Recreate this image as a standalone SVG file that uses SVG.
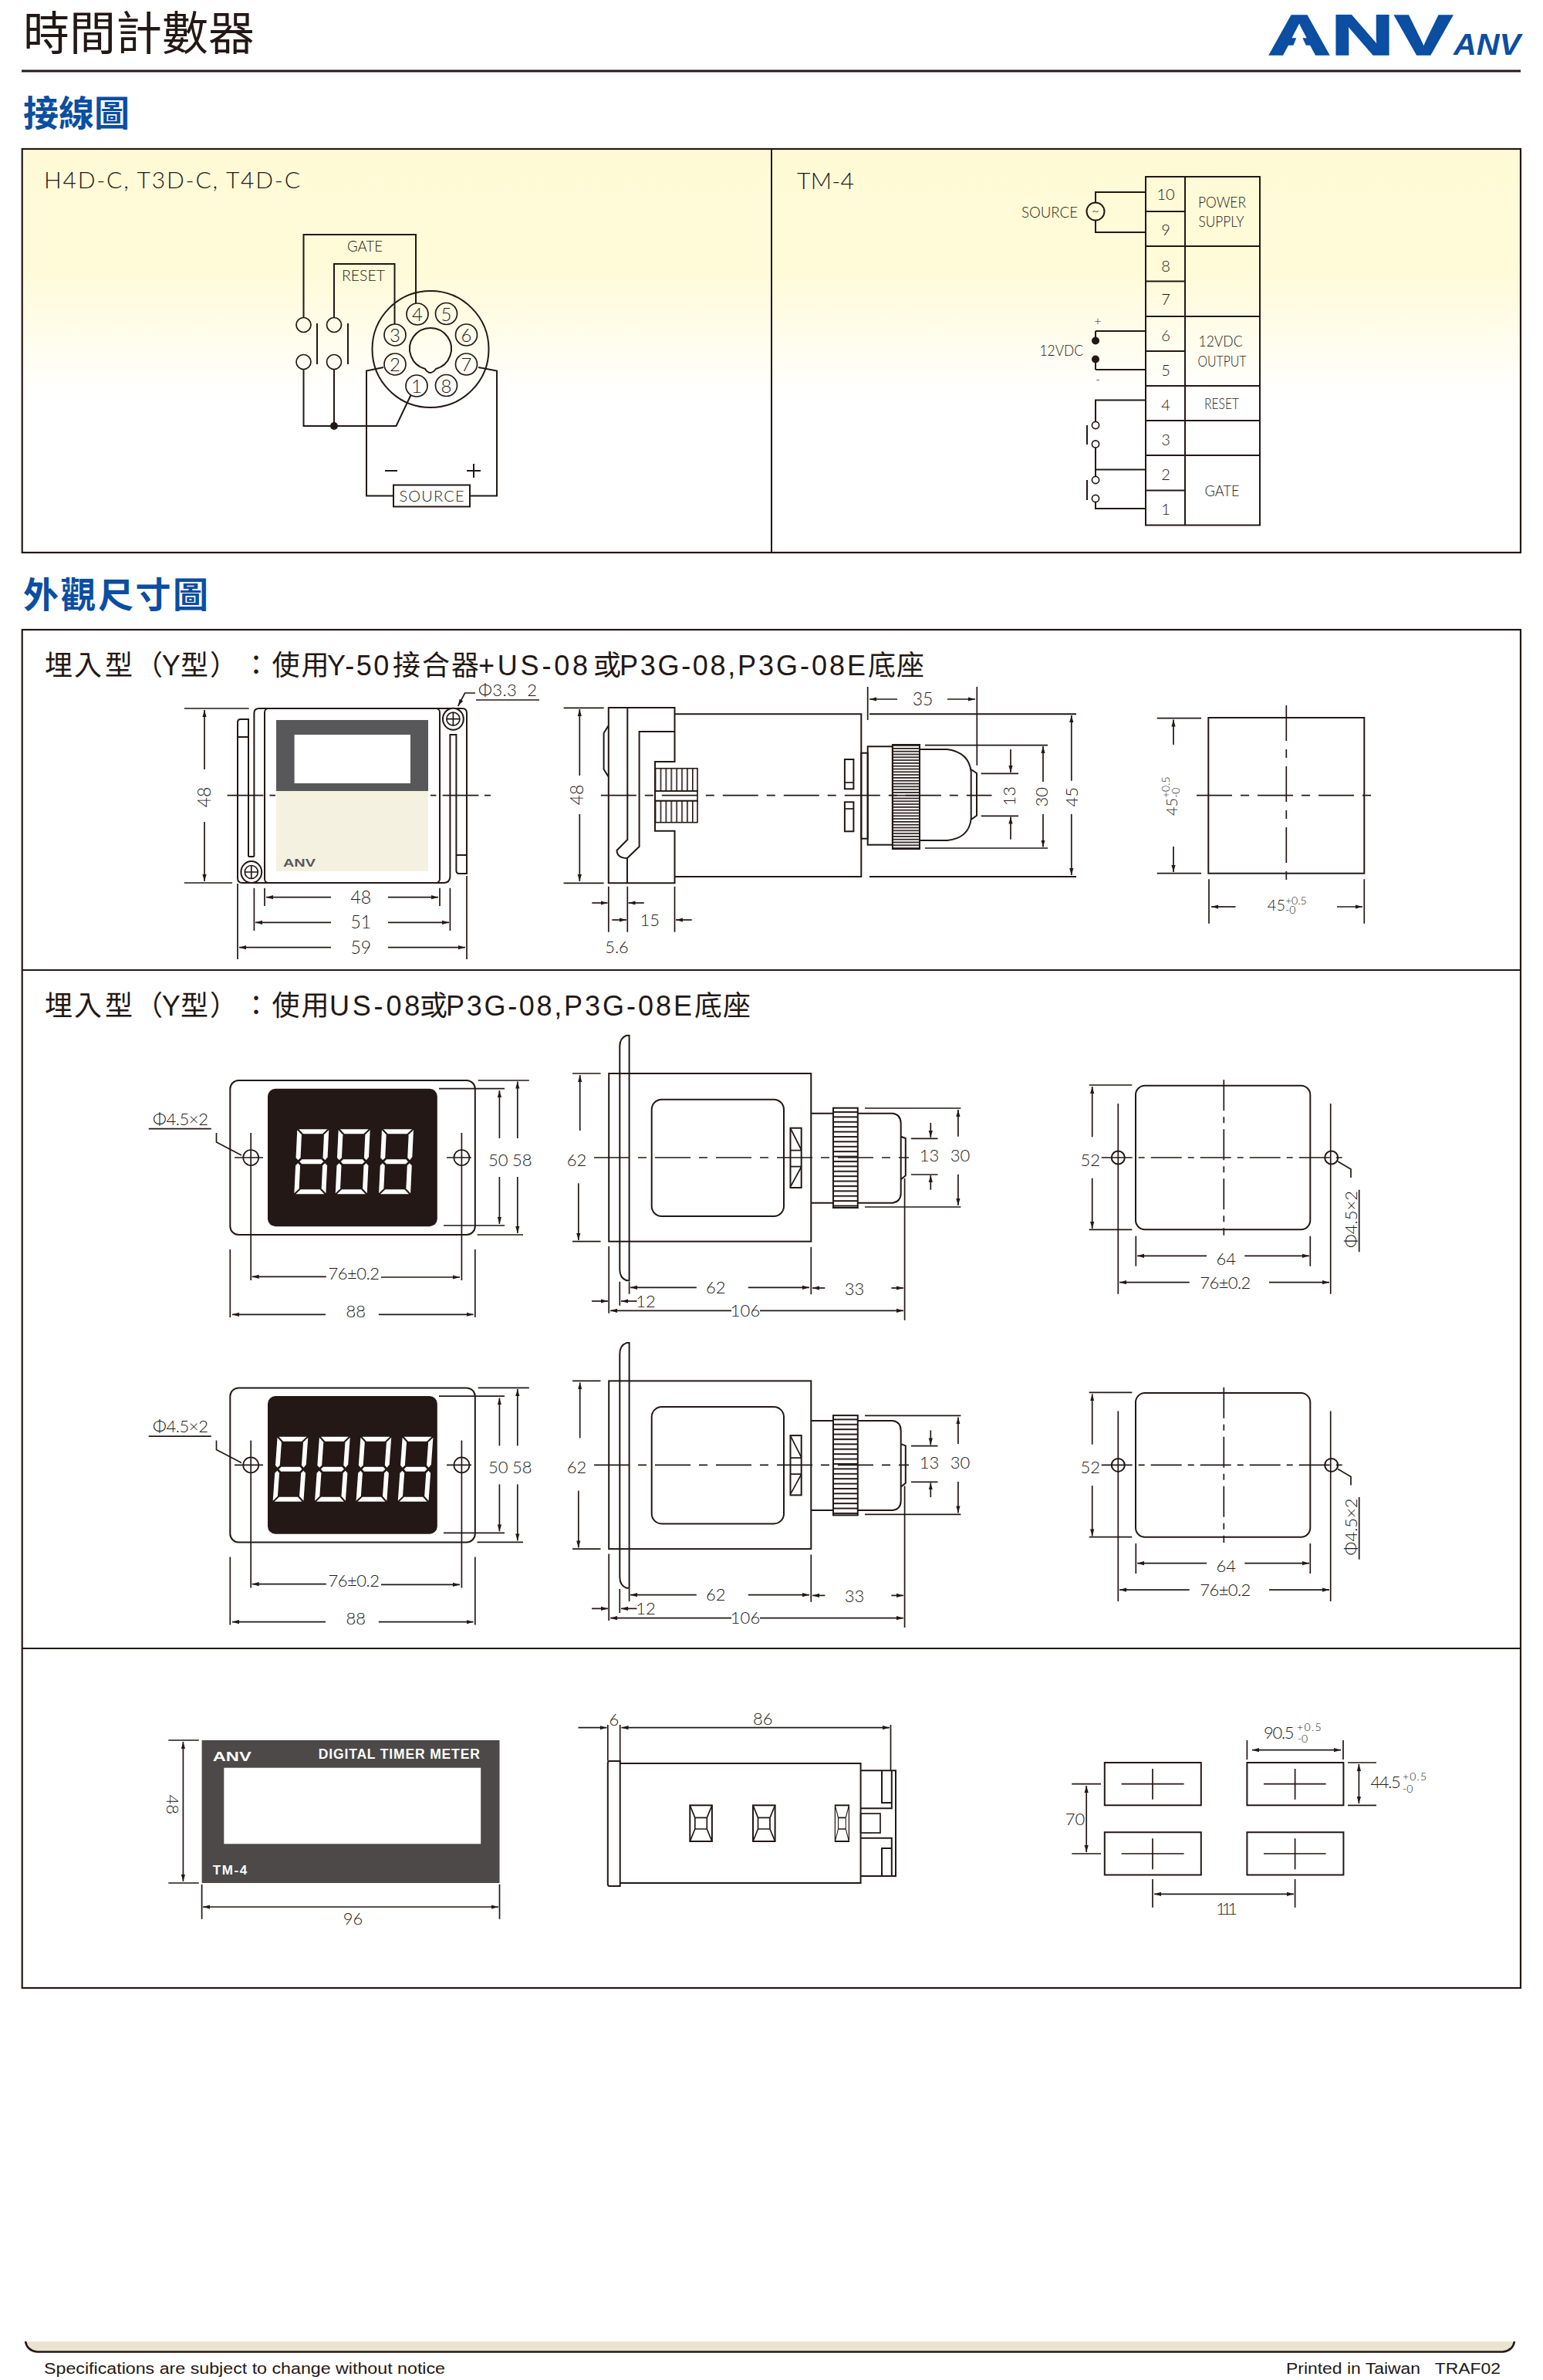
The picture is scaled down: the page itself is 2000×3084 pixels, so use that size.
<svg xmlns="http://www.w3.org/2000/svg" xmlns:xlink="http://www.w3.org/1999/xlink" width="2000" height="3084" viewBox="0 0 2000 3084">
<style>
.l{fill:none;stroke:#231815;stroke-width:2}
.d{fill:none;stroke:#231815;stroke-width:1.7}
.w{fill:#fff;stroke:#231815;stroke-width:2}
.a{marker-end:url(#ar)}
.aa{marker-end:url(#ar);marker-start:url(#ar)}
.c{stroke-dasharray:46 11 11 11}
.c2{stroke-dasharray:40 8 8 8}
text{font-family:Lato,"Liberation Sans","Noto Sans CJK TC",sans-serif;fill:#231815;font-weight:300}
.m{text-anchor:middle}
.s13{font-size:13px}.s14{font-size:14px}.s16{font-size:16px}.s18{font-size:18px}.s19{font-size:19px}.s20{font-size:20px}.s22{font-size:22px}.s23{font-size:23px}.s24{font-size:24px}.s30{font-size:30px}
.h{font-family:"Noto Sans CJK TC","Noto Sans CJK SC",sans-serif;font-size:46px;font-weight:700;fill:#0b4ea2}
.ti{font-family:"Liberation Sans","Noto Sans CJK TC",sans-serif;font-size:36px;font-weight:400}
.b{font-family:"Liberation Sans",sans-serif;font-weight:700;fill:#fff}
.ft{font-family:"Liberation Sans",sans-serif;font-size:20px;font-weight:400}
</style>
<defs>
<linearGradient id="cream" x1="0" y1="0" x2="0" y2="1"><stop offset="0" stop-color="#fffad6"/><stop offset=".3" stop-color="#fffad8"/><stop offset=".62" stop-color="#ffffff"/></linearGradient>
<marker id="ar" markerUnits="userSpaceOnUse" markerWidth="10" markerHeight="6" refX="9" refY="3" orient="auto-start-reverse"><path d="M0 .4L9 3L0 5.6Z" fill="#231815"/></marker>
<pattern id="k1" patternUnits="userSpaceOnUse" width="10" height="3.8"><rect width="10" height="1.7" fill="#231815"/></pattern>
<pattern id="k2" patternUnits="userSpaceOnUse" width="10" height="6.4"><rect width="10" height="2" fill="#231815"/></pattern>
<pattern id="k3" patternUnits="userSpaceOnUse" width="6.9" height="10"><rect width="1.6" height="10" fill="#231815"/></pattern>
<g id="dig"><polygon points="2,0 39,0 33,6 8,6"/><polygon points="41,1 41,36 38,40 35,37 35,7"/><polygon points="0,1 6,7 6,37 3,40 0,37"/><polygon points="5,42 8,39 33,39 36,42 33,45 8,45"/><polygon points="0,47 3,44 6,47 6,77 0,83"/><polygon points="41,47 38,44 35,47 35,77 41,83"/><polygon points="2,84 8,78 33,78 39,84"/></g>

<g id="frontB">
<rect class="l" x="298.3" y="1400" width="317.5" height="200" rx="11"/>
<rect x="347" y="1410.7" width="219.8" height="178.6" rx="10" fill="#231815"/>
<circle class="d" cx="325.2" cy="1500" r="10"/><circle class="d" cx="598.4" cy="1500" r="10"/>
<path class="d" d="M304 1500H341M579 1500H611M325.2 1468V1659M598.4 1468V1659"/>
<path class="d" d="M280.5 1468V1480L313 1497"/>
<path class="d" d="M192.7 1462.7H273.8"/>
<path class="d" d="M619.7 1400H685.8M569 1410.7H654M575 1588H654M618.6 1600H678M298.3 1619V1707M615.8 1619V1707"/>
<path class="d a" d="M647.4 1475V1413"/><path class="d a" d="M647.4 1525V1586"/>
<path class="d a" d="M670.8 1475V1401.5"/><path class="d a" d="M670.8 1525V1598"/>
<path class="d a" d="M422.8 1654.3H326.7"/><path class="d a" d="M494 1655H596"/>
<path class="d a" d="M422 1703.3H301"/><path class="d a" d="M490.8 1703.3H613.6"/>
</g>

<g id="sideB">
<rect class="l" x="789.2" y="1391" width="262.1" height="217.7"/>
<path class="l" d="M815.6 1341.7V1659.3H812Q803.3 1656 803.3 1645V1356Q803.3 1345 812 1341.7Z"/>
<rect class="l" x="844.7" y="1424.7" width="171.3" height="151.3" rx="13"/>
<rect class="l" x="1024.5" y="1461.7" width="14.2" height="77.3"/>
<path class="d" d="M1024.5 1490.7H1038.7M1024.5 1511.7H1038.7M1025 1463L1038.7 1490M1025 1537L1038.7 1512"/>
<path class="l" d="M1051.3 1442.7H1080M1051.3 1558.7H1080"/>
<rect x="1080" y="1435.7" width="31.8" height="129.3" fill="url(#k2)" stroke="#231815" stroke-width="2"/>
<path class="l" d="M1111.8 1442.7H1157Q1167.7 1444 1167.7 1456V1546Q1167.7 1557 1157 1558.7H1111.8M1167.7 1472.7L1173.8 1475V1523.3L1167.7 1528.3"/>
<path class="d" d="M1121 1436H1245.4M1121 1564H1245.4M1181 1475.3H1215.5M1181 1522H1215.5"/>
<path class="d a" d="M1206.3 1455V1474"/><path class="d a" d="M1206.3 1541.7V1523"/>
<path class="d a" d="M1241.9 1472.7V1438"/><path class="d a" d="M1241.9 1521.7V1562"/>
<path class="d c" d="M770 1500H1178"/>
<path class="d" d="M742 1391H778.5M742 1608.7H778.5"/>
<path class="d a" d="M751.7 1465V1393"/><path class="d a" d="M749.8 1533.3V1607"/>
<path class="d" d="M789.2 1615V1701.7M803.3 1660.7V1691.7M815.6 1660.7V1676.7M1051.3 1616V1677.3M1172.6 1527V1710.7"/>
<path class="d a" d="M902.8 1668.3H817"/><path class="d a" d="M969.8 1668.3H1049"/>
<path class="d a" d="M1069.3 1669H1053"/><path class="d a" d="M1155.4 1669H1171"/>
<path class="d a" d="M767 1686H788"/><path class="d a" d="M825.5 1686H805"/>
<path class="d a" d="M948 1698.3H791"/><path class="d a" d="M985 1698.3H1171"/>
</g>

<g id="cutB">
<rect class="l" x="1472" y="1406.7" width="226.3" height="186.6" rx="12"/>
<circle class="l" cx="1449.3" cy="1500" r="8.5"/><circle class="l" cx="1725.7" cy="1500" r="8.5"/>
<path class="d" d="M1449.3 1430V1676.7M1724.7 1430V1676.7"/>
<path class="d c2" d="M1586.3 1399.3V1600.7"/>
<path class="d c2" d="M1427.7 1500H1745"/>
<path class="d" d="M1411.7 1406H1467.3M1411.7 1593.3H1467.3"/>
<path class="d a" d="M1415.7 1473.3V1408"/><path class="d a" d="M1415.7 1526.7V1592"/>
<path class="d" d="M1472.3 1601.7V1640.7M1698.3 1601.7V1640.7"/>
<path class="d a" d="M1564 1627.3H1474"/><path class="d a" d="M1613.3 1627.3H1697"/>
<path class="d a" d="M1541.7 1661.7H1451"/><path class="d a" d="M1645 1661.7H1723"/>
<path class="d" d="M1734 1505L1751 1515V1526M1761.7 1541.7V1622.3"/>
</g>
<g id="clip">
<rect class="l" x="0" y="0" width="28.6" height="46.7"/>
<path class="d" d="M0 0L6.5 16H22L28.6 0M0 46.7L6.5 30.7H22L28.6 46.7M6.5 16V30.7M22 16V30.7"/>
</g>
<g id="cut"><path class="l" d="M0 0H125V55.3H0Z"/></g>
</defs>

<rect width="2000" height="3084" fill="#fff"/>

<g id="header">
<text x="30" y="65" font-size="60" style="font-family:'Noto Sans CJK TC','Noto Sans CJK SC',sans-serif;font-weight:400">時間計數器</text>
<path d="M28 92H1971" stroke="#231815" stroke-width="3"/>
<text x="1643" y="71" font-size="75" textLength="240" lengthAdjust="spacingAndGlyphs" style="font-family:'Liberation Sans',sans-serif;font-weight:700;fill:#0b4ea2;stroke:#0b4ea2;stroke-width:1.5">ANV</text>
<polygon points="1684,40 1671,72 1699,72" fill="#fff"/>
<text x="1884" y="71" font-size="38" font-style="italic" textLength="87" lengthAdjust="spacingAndGlyphs" style="font-family:'Liberation Sans',sans-serif;font-weight:700;fill:#0b4ea2">ANV</text>
<text class="h" x="30" y="163">接線圖</text>
</g>

<g id="wiring-panel">
<rect x="28.7" y="193" width="1942.3" height="523" fill="url(#cream)" stroke="#231815" stroke-width="2.2"/>
<path class="l" d="M1000 193V716"/>
<text class="s30" x="57" y="244" textLength="332">H4D-C, T3D-C, T4D-C</text>
<text class="s30" x="1033" y="245" textLength="74">TM-4</text>
</g>

<g id="socket-wiring">
<path class="l" d="M393.5 411V304H539V393M433 412V342H511.5V420"/>
<path class="l" d="M393.5 479V552H513.5L532.5 512M433 479V552"/>
<circle cx="433" cy="552" r="5" fill="#231815"/>
<path class="l" d="M411 419V472M451 419V472"/>
<ellipse class="d" cx="393.5" cy="421" rx="9.5" ry="9.5"/><ellipse class="d" cx="433" cy="421" rx="9.5" ry="9.5"/>
<ellipse class="d" cx="393.5" cy="469" rx="9.5" ry="9.5"/><ellipse class="d" cx="433" cy="469" rx="9.5" ry="9.5"/>
<path class="l" d="M497 476L475 480.5V642.5H510M620 476L644 480.5V642.5H609"/>
<rect class="l" x="510" y="628.5" width="99" height="28"/>
<text class="s20 m" x="559.5" y="650" textLength="84">SOURCE</text>
<text class="s20 m" x="473" y="326" textLength="46" lengthAdjust="spacingAndGlyphs">GATE</text>
<text class="s20 m" x="471" y="364" textLength="56" lengthAdjust="spacingAndGlyphs">RESET</text>
<path class="l" d="M499 610H515M605 610H623M614 601V619"/>
</g>
<g id="socket">
<circle class="l" cx="558" cy="452.5" r="75.5"/>
<path class="l" d="M551 478A27 27 0 1 1 565 478Q561 483 558 483Q554 483 551 478Z"/>
<g class="d">
<circle cx="541" cy="407" r="14"/><circle cx="578.5" cy="406.5" r="14"/><circle cx="604.5" cy="434" r="14"/><circle cx="604.5" cy="472" r="14"/><circle cx="578.5" cy="499.5" r="14"/><circle cx="540" cy="500" r="14"/><circle cx="512" cy="472" r="14"/><circle cx="512" cy="434" r="14"/>
</g>
<text class="s24 m" x="541" y="416">4</text><text class="s24 m" x="578.5" y="415.5">5</text><text class="s24 m" x="604.5" y="443">6</text><text class="s24 m" x="604.5" y="481">7</text><text class="s24 m" x="578.5" y="508.5">8</text><text class="s24 m" x="540" y="509">1</text><text class="s24 m" x="512" y="481">2</text><text class="s24 m" x="512" y="443">3</text>
</g>

<g id="terminal-wiring">
<path class="l" d="M1420 263V249H1485M1420 285V301H1485M1420 429H1485M1420 429V441M1420 479H1485M1420 479V466M1485 518.6H1420V546M1420 580V617M1420 608.5H1485M1420 651V659H1485"/>
<circle class="l" cx="1420" cy="274" r="11.5"/>
<text class="s16 m" x="1420" y="279">~</text>
<circle cx="1420" cy="441.5" r="5" fill="#231815"/><circle cx="1420" cy="465.5" r="5" fill="#231815"/>
<circle class="d" cx="1420" cy="551" r="4.6"/><circle class="d" cx="1420" cy="575.4" r="4.6"/><circle class="d" cx="1420" cy="622" r="4.6"/><circle class="d" cx="1420" cy="646" r="4.6"/>
<path class="l" d="M1409 551V576M1409 622V648"/>
<text class="s20" x="1324" y="282" textLength="73" lengthAdjust="spacingAndGlyphs">SOURCE</text>
<text class="s20" x="1347.5" y="461" textLength="56.5" lengthAdjust="spacingAndGlyphs">12VDC</text>
<text class="s16 m" x="1423" y="422">+</text>
<text class="s16 m" x="1423" y="497">-</text>
</g>
<g id="terminal-block">
<path class="l" d="M1485 229H1633V680.6H1485ZM1536 229V680.6M1485 274H1536M1485 319H1633M1485 364.5H1536M1485 410H1633M1485 455H1536M1485 500H1633M1485 545H1633M1485 590H1633M1485 635.5H1536"/>
<text class="s20 m" x="1511" y="259">10</text><text class="s20 m" x="1511" y="305">9</text><text class="s20 m" x="1511" y="352">8</text><text class="s20 m" x="1511" y="395">7</text><text class="s20 m" x="1511" y="442">6</text><text class="s20 m" x="1511" y="487">5</text><text class="s20 m" x="1511" y="532">4</text><text class="s20 m" x="1511" y="577">3</text><text class="s20 m" x="1511" y="621.5">2</text><text class="s20 m" x="1511" y="667">1</text>
<text class="s19 m" x="1584" y="268.5" textLength="62" lengthAdjust="spacingAndGlyphs">POWER</text><text class="s19 m" x="1583" y="294" textLength="59" lengthAdjust="spacingAndGlyphs">SUPPLY</text>
<text class="s19 m" x="1582" y="449" textLength="57" lengthAdjust="spacingAndGlyphs">12VDC</text><text class="s19 m" x="1584" y="475" textLength="63" lengthAdjust="spacingAndGlyphs">OUTPUT</text>
<text class="s19 m" x="1583.5" y="530" textLength="45" lengthAdjust="spacingAndGlyphs">RESET</text><text class="s19 m" x="1584" y="642.5" textLength="45" lengthAdjust="spacingAndGlyphs">GATE</text>
</g>

<text class="h" x="30" y="787" textLength="240">外觀尺寸圖</text>

<g id="dimension-panel">
<rect x="28.7" y="816" width="1942.3" height="1760" fill="#fff" stroke="#231815" stroke-width="2.2"/>
<path class="l" d="M28.7 1257H1971M28.7 2136H1971"/>
<text class="ti" y="875"><tspan x="58">埋</tspan><tspan x="96">入</tspan><tspan x="136">型</tspan><tspan x="175">（</tspan><tspan x="209.7">Y</tspan><tspan x="234">型</tspan><tspan x="272">）</tspan><tspan x="314">：</tspan><tspan x="352.6">使</tspan><tspan x="390.5">用</tspan><tspan x="424" letter-spacing="2.5">Y-50</tspan><tspan x="509">接</tspan><tspan x="547">合</tspan><tspan x="585">器</tspan><tspan x="620" letter-spacing="3.8">+US-08</tspan><tspan x="769">或</tspan><tspan x="803" letter-spacing="2.7">P3G-08,</tspan><tspan x="956" letter-spacing="3">P3G-08E</tspan><tspan x="1125">底</tspan><tspan x="1162">座</tspan></text>
<text class="ti" y="1316"><tspan x="58">埋</tspan><tspan x="96">入</tspan><tspan x="136">型</tspan><tspan x="175">（</tspan><tspan x="209.7">Y</tspan><tspan x="234">型</tspan><tspan x="272">）</tspan><tspan x="314">：</tspan><tspan x="352.6">使</tspan><tspan x="390.5">用</tspan><tspan x="427" letter-spacing="3.8">US-08</tspan><tspan x="544">或</tspan><tspan x="578" letter-spacing="2.7">P3G-08,</tspan><tspan x="731" letter-spacing="3">P3G-08E</tspan><tspan x="900">底</tspan><tspan x="937">座</tspan></text>
</g>

<g id="a-front">
<rect x="358" y="933" width="197" height="92" fill="#58585a"/>
<rect x="358" y="1025" width="197" height="104" fill="#f5f1e0"/>
<rect x="381.6" y="952" width="150.4" height="63" fill="#fff"/>
<text x="367" y="1123" font-size="14" textLength="42" lengthAdjust="spacingAndGlyphs" style="font-family:'Liberation Sans',sans-serif;font-weight:700;fill:#58585a">ANV</text>
<rect class="l" x="343" y="918" width="227" height="226" rx="5"/>
<path class="l" d="M322 1110V932H312Q308 932 308 936V1138Q308 1144 314 1144H575Q583 1144 583.4 1136V952H591.4V1108M308 955H322M329.4 1110V924Q329.4 918 336 918H599Q605 918 605 924V1132H595Q591.4 1132 591.4 1128V1108H605M322 1110H329.4"/>
<ellipse class="w" cx="587.4" cy="931.7" rx="13.4" ry="14"/><circle class="d" cx="587.4" cy="931.7" r="8.5"/><path class="d" d="M579 931.7H596M587.4 923V940"/>
<ellipse class="w" cx="325.8" cy="1130" rx="13.4" ry="14"/><circle class="d" cx="325.8" cy="1130" r="8.5"/><path class="d" d="M317 1130H334M325.8 1121V1139"/>
<path class="d" d="M294.6 1030.7H341.4M349.5 1030.7H357M558 1030.7H565.5M573.6 1030.7H620.4M628 1030.7H636"/>
<path class="d a" d="M616 898H602.6L593.7 915"/>
<text class="s22" x="620" y="902" textLength="76" xml:space="preserve">Φ3.3  2</text>
<path class="d" d="M617 907H699"/>
<path class="d" d="M238.8 918H322.7M238.8 1144H301"/>
<path class="d a" d="M265 997V920"/><path class="d a" d="M265 1065V1142"/>
<text class="s23 m" transform="translate(272.5 1033) rotate(-90)">48</text>
<path class="d" d="M343 1150.7V1174M570 1150.7V1174M329.4 1150.7V1206M583.4 1150.7V1206M308 1145V1243M605 1135V1243"/>
<path class="d a" d="M429 1162.7H345"/><path class="d a" d="M503 1162.7H568"/>
<path class="d a" d="M429 1195.3H331"/><path class="d a" d="M503 1195.3H582"/>
<path class="d a" d="M429 1227.7H310"/><path class="d a" d="M503 1227.7H603"/>
<text class="s23 m" x="467.8" y="1171">48</text><text class="s23 m" x="467.8" y="1203">51</text><text class="s23 m" x="467.8" y="1236">59</text>
</g>

<g id="a-side">
<path class="l" d="M788.8 917H874.5V948H828.6V1097L813 1112V1144.3H788.8ZM813.3 917V1088L799.5 1102Q800 1112 813 1112M874.5 948V987H849V1076.7H874.5V1144.3H813M782.6 950L788.8 940M782.6 950V996.7L788.8 1006.7"/>
<rect x="849" y="995.7" width="55" height="29.3" fill="url(#k3)" stroke="#231815" stroke-width="1.6"/>
<rect x="849" y="1037.7" width="55" height="28" fill="url(#k3)" stroke="#231815" stroke-width="1.6"/>
<path class="d" d="M849 1025H904V1037.7H849"/>
<path class="l" d="M874.5 925.3H1116.3V1136H874.5M1127 925.3H1395M1127 1136H1395"/>
<path class="d" d="M1124.7 890V933M1266.3 890V991.7"/>
<path class="d a" d="M1163 906H1127"/><path class="d a" d="M1228 906H1264"/>
<text class="s23 m" x="1196" y="914">35</text>
<rect class="l" x="1094.9" y="984" width="11.5" height="38.3"/><path class="d" d="M1094.9 1014H1106.4"/>
<rect class="l" x="1094.9" y="1039.3" width="11.5" height="38"/><path class="d" d="M1094.9 1048H1106.4"/>
<rect class="l" x="1116.3" y="975.7" width="8.4" height="111"/>
<rect class="l" x="1124.7" y="967.3" width="32.2" height="127.4"/>
<rect x="1156.9" y="965" width="35.1" height="135" fill="url(#k1)" stroke="#231815" stroke-width="2"/>
<path class="l" d="M1192 971H1228Q1256 975 1258.7 1000V1061Q1256 1086 1228 1089H1192M1258.7 997L1266 1002V1056.7L1258.7 1062"/>
<path class="d" d="M1199 965.7H1358M1199 1099H1358M1271.7 1002.3H1320M1271.7 1057.3H1320"/>
<path class="d a" d="M1310 971V1001"/><path class="d a" d="M1310 1087.7V1058.5"/>
<path class="d a" d="M1352 1013V967"/><path class="d a" d="M1352 1055V1097.5"/>
<path class="d a" d="M1388.8 1011.7V927"/><path class="d a" d="M1388.8 1055V1134"/>
<text class="s22 m" transform="translate(1316 1031.7) rotate(-90)">13</text>
<text class="s22 m" transform="translate(1358 1032.7) rotate(-90)">30</text>
<text class="s22 m" transform="translate(1396.5 1032.7) rotate(-90)">45</text>
<path class="d" d="M730.6 917.3H782.6M730.6 1144.3H782.6"/>
<path class="d a" d="M751.3 1005V919"/><path class="d a" d="M751.3 1055V1142"/>
<text class="s23 m" transform="translate(756 1030) rotate(-90)">48</text>
<path class="d c" d="M778.8 1030.7H1285.5"/>
<path class="d" d="M788.8 1148.7V1207.7M813.3 1148.7V1207.7M874.5 1148.7V1207.7"/>
<path class="d a" d="M767.3 1170H787.5"/><path class="d a" d="M834.7 1170H814.5"/>
<path class="d a" d="M793.4 1192H812"/><path class="d a" d="M896.7 1192H876"/>
<text class="s22 m" x="842.3" y="1200">15</text>
<text class="s22 m" x="799.5" y="1234.5">5.6</text>
</g>

<g id="a-cutout">
<rect class="l" x="1566.3" y="930" width="202" height="201.7"/>
<path class="d c" d="M1667.3 914V1147.3"/>
<path class="d c" d="M1551 1030.7H1784.4"/>
<path class="d" d="M1499.7 930.7H1557M1499.7 1131.7H1557"/>
<path class="d a" d="M1521 965V932.5"/><path class="d a" d="M1521 1097V1130"/>
<g transform="translate(1518.9 1030) rotate(-90)"><text class="s20" x="-27" y="7.5">45</text><text class="s14" x="-4" y="-3">+0.5</text><text class="s14" x="-4" y="10">-0</text></g>
<path class="d" d="M1567 1139.3V1196.7M1768.3 1139.3V1196.7"/>
<path class="d a" d="M1601.5 1175H1570"/><path class="d a" d="M1733 1175H1766"/>
<text class="s20" x="1642.8" y="1180">45</text><text class="s14" x="1666" y="1172">+0.5</text><text class="s14" x="1666" y="1184">-0</text>
</g>

<g id="b1-front">
<use href="#frontB" xlink:href="#frontB"/>
<g fill="#fff">
<use href="#dig" xlink:href="#dig" transform="translate(385.3 1463.3) skewX(-2.7)"/>
<use href="#dig" xlink:href="#dig" transform="translate(438.7 1463.3) skewX(-2.7)"/>
<use href="#dig" xlink:href="#dig" transform="translate(495 1463.3) skewX(-2.7)"/>
</g>
<text class="s22" x="198" y="1458" textLength="72">Φ4.5×2</text>
<text class="s22 m" x="645.8" y="1511">50</text><text class="s22 m" x="676.7" y="1511">58</text>
<text class="s22" x="425.6" y="1658" textLength="66.4">76±0.2</text>
<text class="s22 m" x="461.2" y="1707">88</text>
</g>
<g id="b1-side">
<use href="#sideB" xlink:href="#sideB"/>
<text class="s22 m" x="747.5" y="1511">62</text>
<text class="s22 m" x="1204.4" y="1504.7">13</text><text class="s22 m" x="1244.6" y="1504.7">30</text>
<text class="s22 m" x="927.7" y="1676">62</text><text class="s22 m" x="1107.6" y="1678">33</text>
<text class="s22 m" x="837" y="1693.7">12</text><text class="s22 m" x="966" y="1706">106</text>
</g>
<g id="b1-cutout">
<use href="#cutB" xlink:href="#cutB"/>
<text class="s22 m" x="1413.3" y="1511">52</text>
<text class="s22 m" x="1589.3" y="1639">64</text>
<text class="s22 m" x="1588.3" y="1670" textLength="66">76±0.2</text>
<text class="s22 m" transform="translate(1758.5 1580) rotate(-90)" textLength="74">Φ4.5×2</text>
</g>

<g id="b2-front">
<use href="#frontB" xlink:href="#frontB" y="398.4"/>
<g fill="#fff">
<use href="#dig" xlink:href="#dig" transform="translate(359.6 1861.7) skewX(-4.08) scale(.97 1)"/>
<use href="#dig" xlink:href="#dig" transform="translate(414 1861.7) skewX(-4.08) scale(.97 1)"/>
<use href="#dig" xlink:href="#dig" transform="translate(467.5 1861.7) skewX(-4.08) scale(.97 1)"/>
<use href="#dig" xlink:href="#dig" transform="translate(521.7 1861.7) skewX(-4.08) scale(.97 1)"/>
</g>
<text class="s22" x="198" y="1856.4" textLength="72">Φ4.5×2</text>
<text class="s22 m" x="645.8" y="1909.4">50</text><text class="s22 m" x="676.7" y="1909.4">58</text>
<text class="s22" x="425.6" y="2056.4" textLength="66.4">76±0.2</text>
<text class="s22 m" x="461.2" y="2105.4">88</text>
</g>
<g id="b2-side">
<use href="#sideB" xlink:href="#sideB" y="398.4"/>
<text class="s22 m" x="747.5" y="1909.4">62</text>
<text class="s22 m" x="1204.4" y="1903.1">13</text><text class="s22 m" x="1244.6" y="1903.1">30</text>
<text class="s22 m" x="927.7" y="2074.4">62</text><text class="s22 m" x="1107.6" y="2076.4">33</text>
<text class="s22 m" x="837" y="2092.1">12</text><text class="s22 m" x="966" y="2104.4">106</text>
</g>
<g id="b2-cutout">
<use href="#cutB" xlink:href="#cutB" y="398.4"/>
<text class="s22 m" x="1413.3" y="1909.4">52</text>
<text class="s22 m" x="1589.3" y="2037.4">64</text>
<text class="s22 m" x="1588.3" y="2068.4" textLength="66">76±0.2</text>
<text class="s22 m" transform="translate(1758.5 1978.4) rotate(-90)" textLength="74">Φ4.5×2</text>
</g>

<g id="tm4-front">
<rect x="261.6" y="2255" width="385.9" height="185" fill="#4c4948"/>
<rect x="290.3" y="2290.7" width="332.9" height="98.6" fill="#fff"/>
<text class="b" x="275.7" y="2281.7" font-size="16" textLength="50" lengthAdjust="spacingAndGlyphs">ANV</text>
<text class="b" x="412.8" y="2279" font-size="17.5" textLength="209">DIGITAL TIMER METER</text>
<text class="b" x="275.7" y="2429" font-size="17" textLength="44.5">TM-4</text>
<path class="d" d="M218.3 2255H257.8M218.3 2440H257.8M261.6 2441.7V2486.7M647.5 2441.7V2486.7"/>
<path class="d aa" d="M237.4 2257V2438"/>
<path class="d aa" d="M263 2471H646"/>
<text class="s22 m" transform="translate(216 2338.3) rotate(90)">48</text>
<text class="s22 m" x="457.4" y="2493.7">96</text>
</g>

<g id="tm4-side">
<path class="l" d="M803.7 2285H1115.6V2440H803.7M790 2282H803.7V2444H790Q787.8 2444 787.8 2441V2285Q787.8 2282 790 2282Z"/>
<path class="l" d="M1115.6 2294.3H1161V2431H1115.6M1143 2294.3V2336H1155.8M1155.8 2294.3V2343.3H1115.6M1115.6 2381.7H1155.8V2431M1143 2431V2395H1155.8"/>
<rect class="d" x="1115.6" y="2350" width="25.4" height="25"/>
<use href="#clip" xlink:href="#clip" x="894.3" y="2339.3"/>
<use href="#clip" xlink:href="#clip" x="976" y="2339.3"/>
<use href="#clip" xlink:href="#clip" transform="translate(1082.4 2339.3) scale(.63 1)"/>
<path class="d" d="M787.8 2235V2281.7M803.7 2235V2285M1154.5 2235V2294"/>
<path class="d a" d="M749.5 2238.7H786.5"/>
<path class="d aa" d="M805.5 2238.7H1153"/>
<text class="s22 m" x="796" y="2235.7">6</text>
<text class="s22 m" x="988.7" y="2235">86</text>
</g>

<g id="tm4-cutouts">
<use href="#cut" xlink:href="#cut" x="1431.8" y="2284"/>
<use href="#cut" xlink:href="#cut" x="1616.4" y="2284"/>
<use href="#cut" xlink:href="#cut" x="1431.8" y="2374.3"/>
<use href="#cut" xlink:href="#cut" x="1616.4" y="2374.3"/>
<path class="d" d="M1453.6 2311.7H1534.6M1494 2292V2331.7M1638 2311.7H1718.6M1678.6 2292V2331.7M1453.6 2402H1534.6M1494 2382.3V2422.3M1638 2402H1718.6M1678.6 2382.3V2422.3"/>
<path class="d" d="M1389.3 2311.7H1427M1389.3 2402H1427M1494 2435V2471.7M1678.6 2435V2471.7M1616.4 2255V2280M1741 2255V2280M1747 2284H1784M1747 2339.3H1784"/>
<path class="d aa" d="M1408.2 2314V2400"/>
<path class="d aa" d="M1496 2454.3H1677"/>
<path class="d aa" d="M1623 2267.7H1738"/>
<path class="d aa" d="M1761.4 2286V2337"/>
<text class="s22 m" x="1393.6" y="2364.7">70</text>
<text class="s22 m" x="1590" y="2480.7" textLength="28">111</text>
<text class="s22" x="1638" y="2252.7" textLength="39.5">90.5</text><text class="s14" x="1681" y="2243" textLength="31.5">+0.5</text><text class="s14" x="1681.8" y="2258">-0</text>
<text class="s22" x="1776.4" y="2316.7" textLength="39.3">44.5</text><text class="s14" x="1818" y="2307" textLength="31">+0.5</text><text class="s14" x="1818" y="2322.7">-0</text>
</g>

<g id="footer">
<path d="M32 3034.3H1964Q1962 3046 1948 3047H48Q34 3046 32 3034.3Z" fill="#e8e4cf"/>
<path d="M33 3034Q35 3046 48 3047.5H1948Q1961 3046 1963 3034" fill="none" stroke="#231815" stroke-width="2.5"/>
<text class="ft" x="57" y="3076" textLength="520" lengthAdjust="spacingAndGlyphs">Specifications are subject to change without notice</text>
<text class="ft" x="1667" y="3076" textLength="278" lengthAdjust="spacingAndGlyphs" xml:space="preserve">Printed in Taiwan   TRAF02</text>
</g>
</svg>
